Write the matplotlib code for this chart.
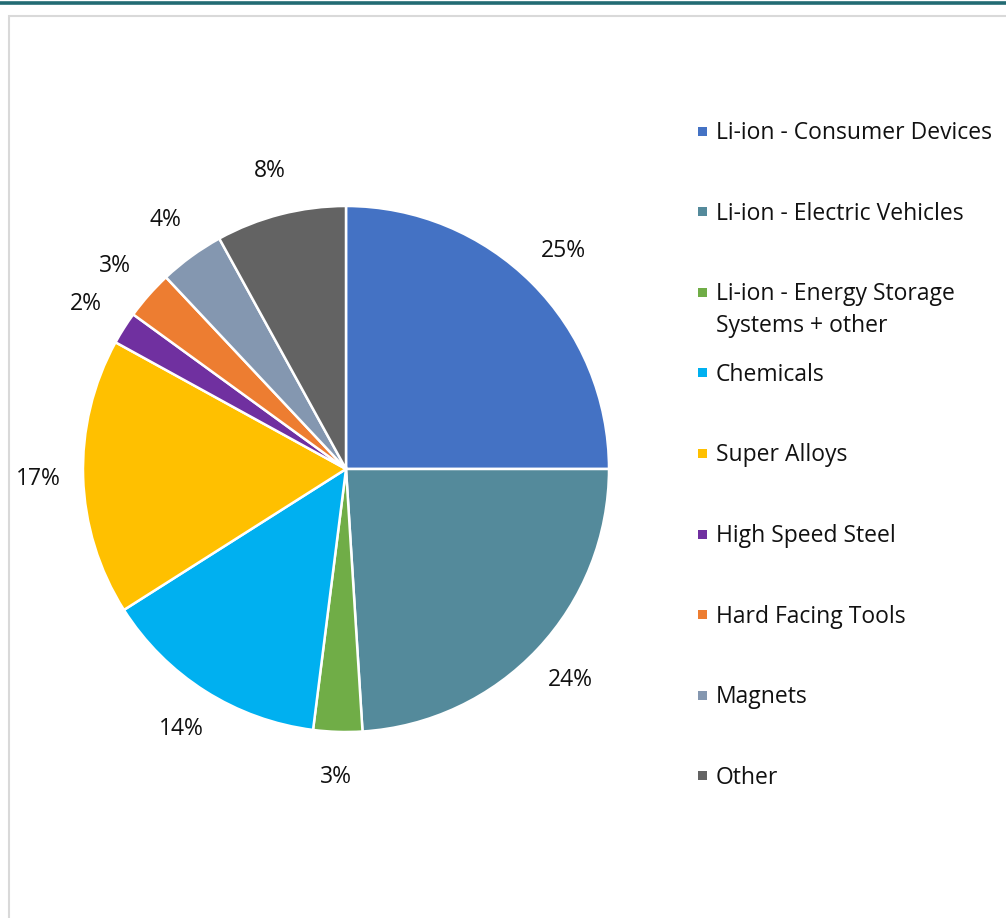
import matplotlib
matplotlib.use('Agg')
import matplotlib.pyplot as plt
from matplotlib.patches import Rectangle
from matplotlib.lines import Line2D

labels = ['Li-ion - Consumer Devices', 'Li-ion - Electric Vehicles',
          'Li-ion - Energy Storage\nSystems + other', 'Chemicals', 'Super Alloys',
          'High Speed Steel', 'Hard Facing Tools', 'Magnets', 'Other']
shares = [25, 24, 3, 14, 17, 2, 3, 4, 8]
colors = ['#4472C4', '#548A9B', '#70AD47', '#00B0F0', '#FFC000',
          '#7030A0', '#ED7D31', '#8497B0', '#636363']

plt.rcParams['font.family'] = ['Open Sans', 'DejaVu Sans']
W, H = 1006, 918
fig = plt.figure(figsize=(W / 100, H / 100), dpi=100)

# frame + top rule
fig.add_artist(Line2D([0, 1], [1 - 2.5 / H, 1 - 2.5 / H], color='#236B73', lw=2.6))
fig.add_artist(Rectangle((8.5 / W, -0.1), 1.2, 1 - 15.5 / H + 0.1, fill=False,
                         ec='#D9D9D9', lw=1.5))

# pie
cx, cy, r = 346, 469, 263
ax = fig.add_axes([(cx - r) / W, (H - cy - r) / H, 2 * r / W, 2 * r / H])
wedges, texts, autotexts = ax.pie(shares, colors=colors, startangle=90, counterclock=False,
                                  autopct='%1.0f%%', pctdistance=1.17,
                                  wedgeprops=dict(edgecolor='white', linewidth=1.8),
                                  textprops=dict(fontsize=16.5, color='#111111'))
ax.set_xlim(-1, 1)
ax.set_ylim(-1, 1)
ax.set_aspect('equal')
ax.axis('off')

# legend
y0, step, line_h = 133, 80.6, 32
for i, (lab, col) in enumerate(zip(labels, colors)):
    y = y0 + i * step
    fig.add_artist(Rectangle((698 / W, 1 - (y + 2.5) / H), 9 / W, 9 / H,
                             fc=col, ec='none'))
    for k, line in enumerate(lab.split('\n')):
        fig.text(716 / W, 1 - (y + k * line_h) / H, line, fontsize=16.5,
                 color='#111111', va='center', ha='left')

fig.savefig('out.png', dpi=100)
